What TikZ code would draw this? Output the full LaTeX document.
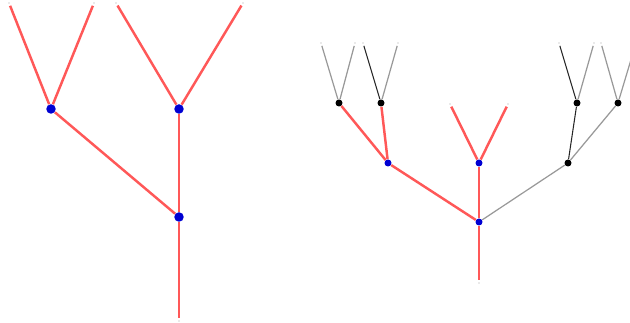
\documentclass[tikz,border=0pt]{standalone}
\usepackage{tikz}
\usepackage{xcolor}
\definecolor{edgered}{RGB}{255,88,88}
\definecolor{nodeblue}{RGB}{0,0,210}

\begin{document}
\begin{tikzpicture}[x=0.02cm,y=-0.02cm,
    leaf/.style={circle,fill=gray!70,inner sep=0pt,minimum size=0.8pt,outer sep=1.3pt},
    bigdot/.style={circle,fill=nodeblue,inner sep=0pt,minimum size=0.19cm},
    smalldot/.style={circle,fill=nodeblue,inner sep=0pt,minimum size=0.14cm},
    blackdot/.style={circle,fill=black,inner sep=0pt,minimum size=0.14cm},
    hot/.style={edgered,line width=1.4pt},
    cold/.style={gray!80,line width=0.7pt},
    dark/.style={black!85,line width=0.6pt}]
  \useasboundingbox (0,0) rectangle (630,323);

  % left tree
  \node[leaf] (l1) at (9,3) {};
  \node[leaf] (l2) at (94,3) {};
  \node[leaf] (l3) at (116,3) {};
  \node[leaf] (l4) at (243,3) {};
  \node[leaf] (lr) at (179,321) {};
  \node[bigdot] (lb) at (51,109) {};
  \node[bigdot] (lc) at (179,109) {};
  \node[bigdot] (la) at (179,217) {};
  \foreach \a/\b in {lb/l1,lb/l2,lc/l3,lc/l4,la/lb,la/lc,la/lr}{
    \draw[hot] (\a) -- (\b);
  }

  % right tree
  \node[leaf] (rr) at (479,283) {};
  \node[smalldot] (ra) at (479,222) {};
  \node[smalldot] (rb) at (388,163) {};
  \node[smalldot] (rc) at (479,163) {};
  \node[blackdot] (rd) at (568,163) {};
  \node[blackdot] (re) at (339,103) {};
  \node[blackdot] (rf) at (381,103) {};
  \node[blackdot] (rg) at (577,103) {};
  \node[blackdot] (rh) at (618,103) {};
  \node[leaf] (c1) at (450,104) {};
  \node[leaf] (c2) at (508,104) {};
  \node[leaf] (e1) at (321,43) {};
  \node[leaf] (e2) at (355,43) {};
  \node[leaf] (f1) at (363,43) {};
  \node[leaf] (f2) at (398,43) {};
  \node[leaf] (g1) at (559,43) {};
  \node[leaf] (g2) at (594,43) {};
  \node[leaf] (h1) at (601,43) {};
  \node[leaf] (h2) at (636,43) {};

  \foreach \a/\b in {ra/rr,ra/rb,ra/rc,rc/c1,rc/c2,rb/re,rb/rf}{
    \draw[hot] (\a) -- (\b);
  }
  \foreach \a/\b in {ra/rd,rd/rh,re/e1,re/e2,rf/f2,rg/g2,rh/h1,rh/h2}{
    \draw[cold] (\a) -- (\b);
  }
  \foreach \a/\b in {rd/rg,rf/f1,rg/g1}{
    \draw[dark] (\a) -- (\b);
  }
\end{tikzpicture}
\end{document}
